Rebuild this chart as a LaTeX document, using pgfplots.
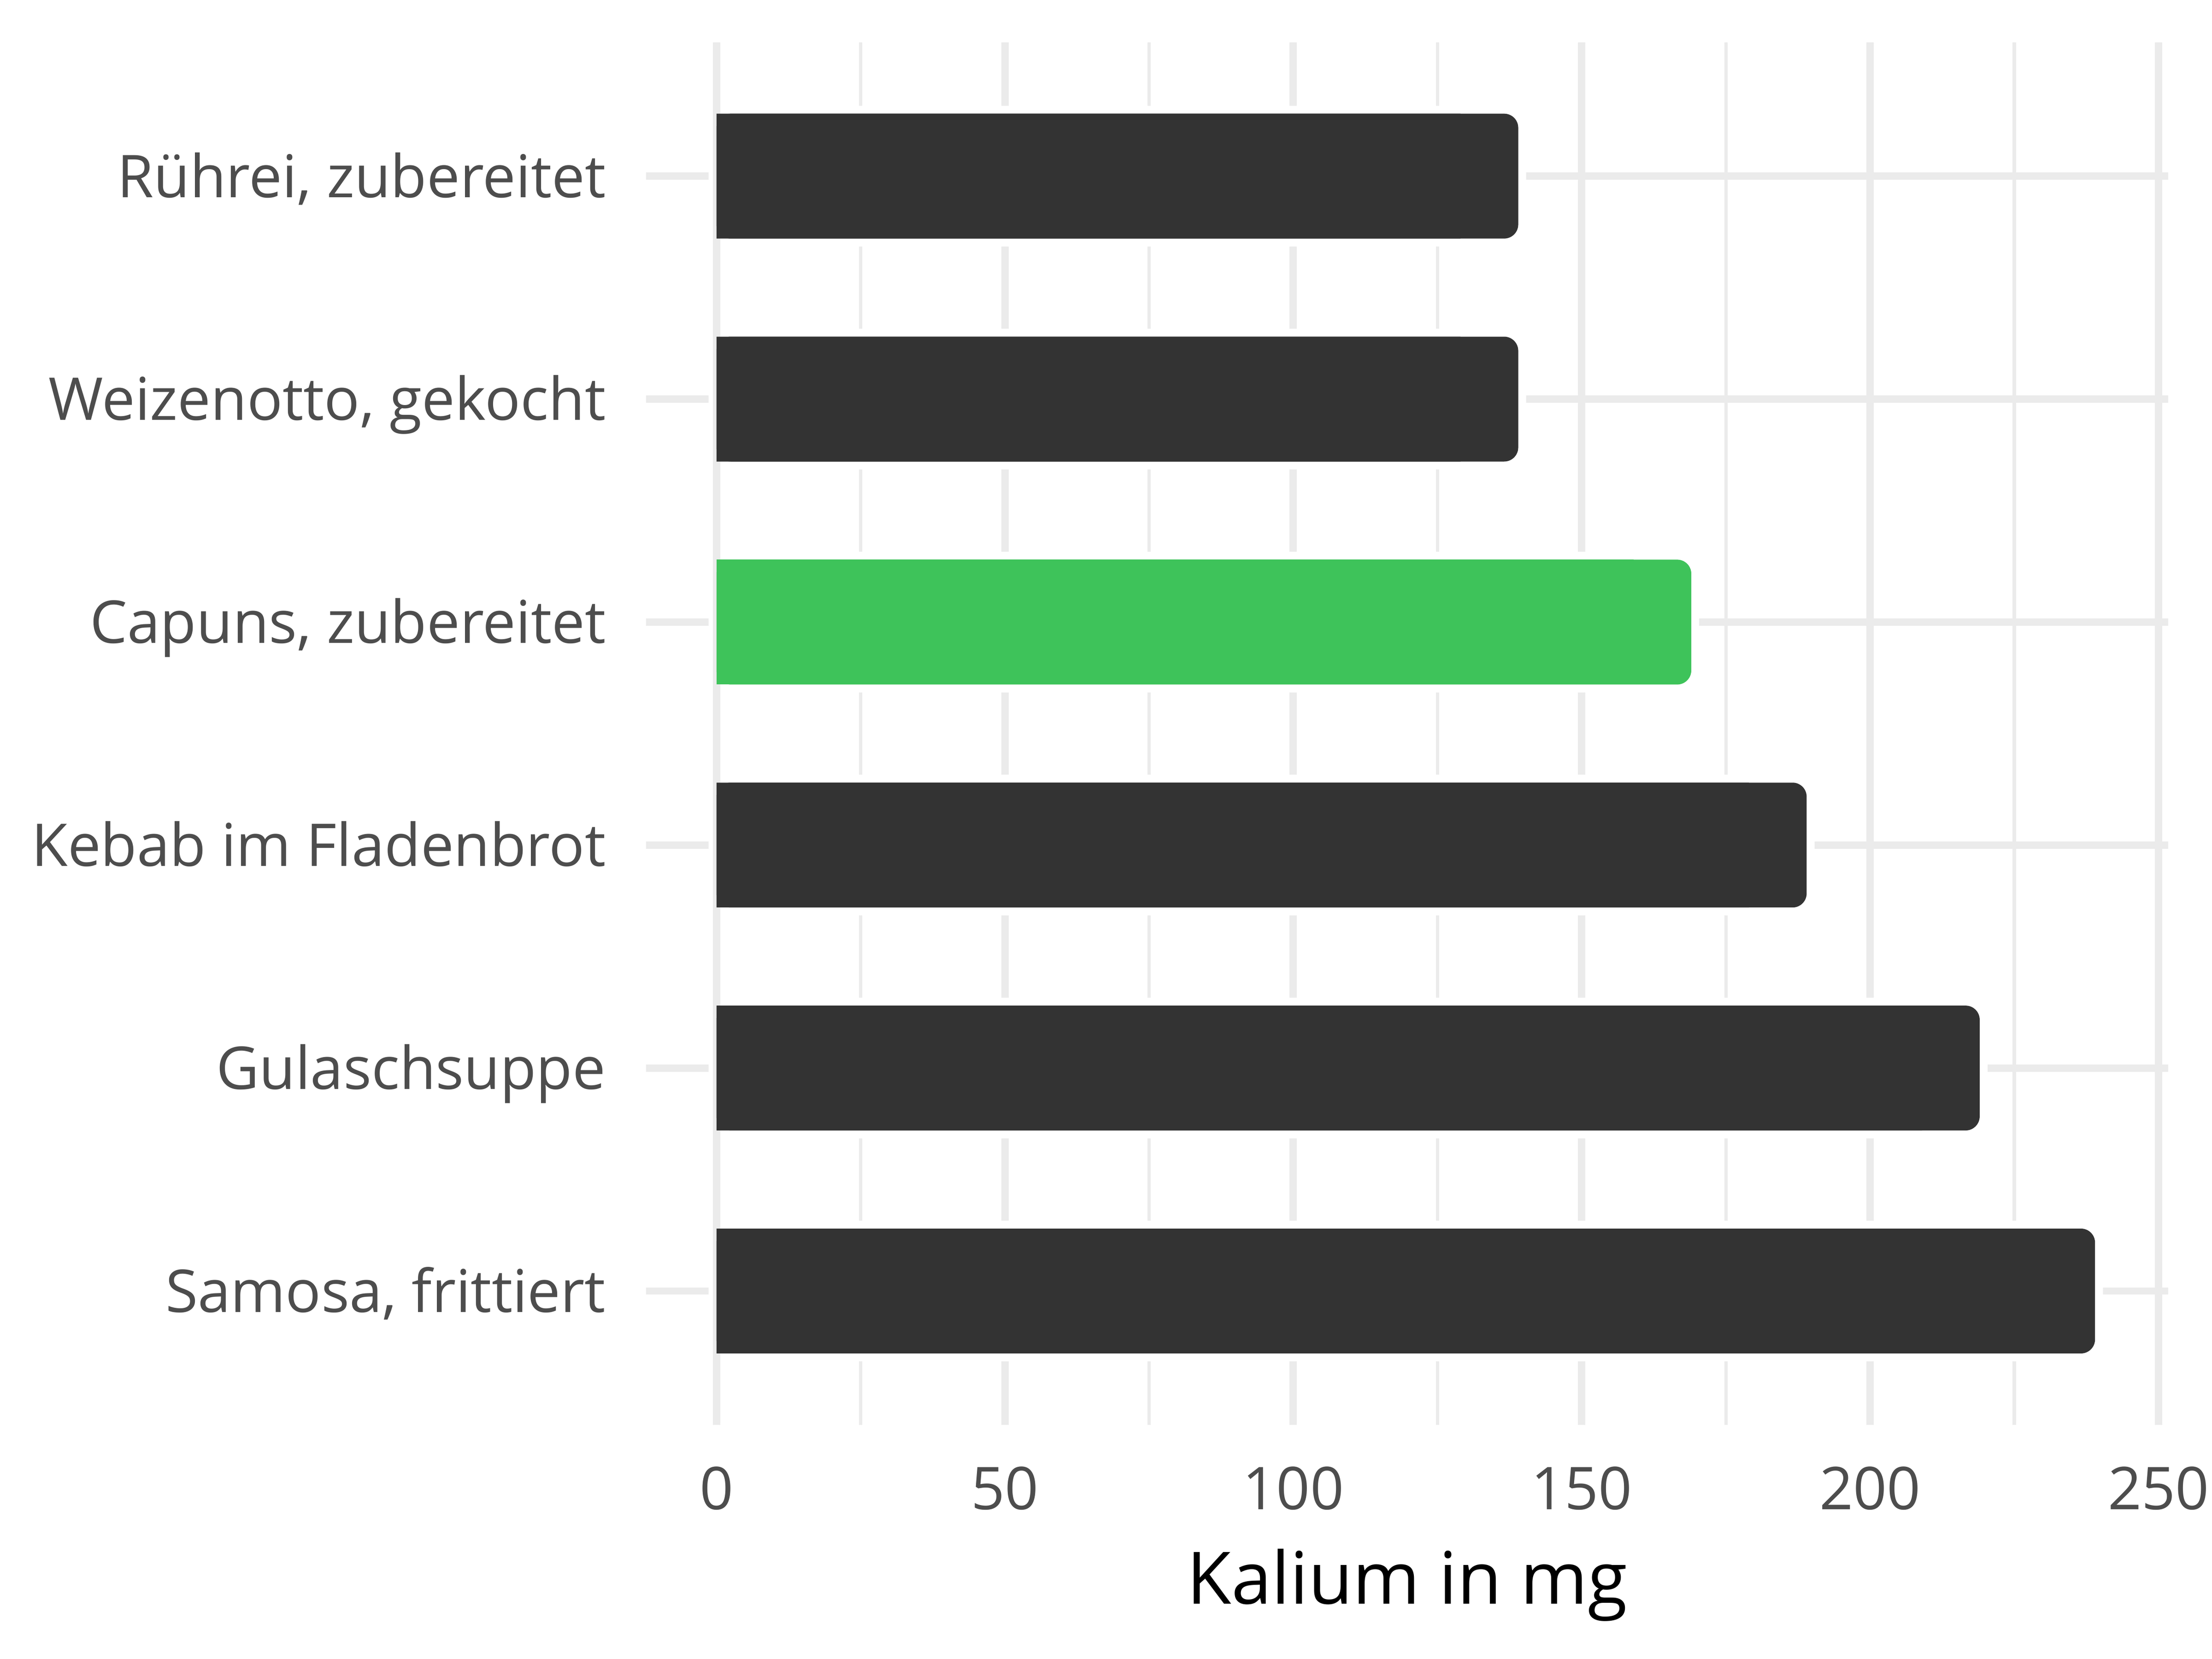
\documentclass[border=0pt]{standalone}
\usepackage{pgfplots}
\pgfplotsset{compat=1.18}
\usepackage{pgfplotstable}
\usepackage{fontspec}
\setmainfont{Open Sans}

\definecolor{bardark}{HTML}{333333}
\definecolor{bargreen}{HTML}{3EC35A}
\definecolor{gridgray}{HTML}{EBEBEB}
\definecolor{ticktext}{HTML}{4D4D4D}

% Kalium in mg, position 1 = unterste Zeile
\pgfplotstableread{
pos val
1 239
2 219
3 189
5 139
6 139
}\darkdata
\pgfplotstableread{
pos val
4 169
}\greendata
\pgfplotstableread{
pos val
1 239
2 219
3 189
4 169
5 139
6 139
}\alldata

\begin{document}
\begin{tikzpicture}
\useasboundingbox (0,0) rectangle (15.68cm,11.76cm);
\begin{axis}[
    at={(4.58cm,1.66cm)}, anchor=south west,
    width=10.79cm, height=9.8cm, scale only axis,
    xmin=-12.2, xmax=251.7, ymin=0.4, ymax=6.6,
    xtick={0,50,...,250}, minor xtick={25,75,...,225},
    ytick={1,...,6},
    yticklabels={{Samosa, frittiert},Gulaschsuppe,Kebab im Fladenbrot,{Capuns, zubereitet},{Weizenotto, gekocht},{Rührei, zubereitet}},
    xmajorgrids, xminorgrids, ymajorgrids,
    major grid style={draw=gridgray, line width=0.52mm},
    minor grid style={draw=gridgray, line width=0.23mm},
    axis line style={draw=none},
    major tick length=0pt, minor tick length=0pt,
    tick style={draw=none},
    /pgf/number format/assume math mode=true,
    xticklabel style={font=\fontsize{11.9}{14}\selectfont, text=ticktext, anchor=base, inner sep=0pt, yshift=-6mm},
    yticklabel style={font=\fontsize{11.9}{14}\selectfont, text=ticktext, anchor=base east, inner sep=0pt, xshift=-2.8mm, yshift=-1.5mm},
    xlabel={Kalium in mg},
    xlabel style={font=\fontsize{14.6}{17}\selectfont, text=black, at={(axis description cs:0.5,0)}, anchor=base, inner sep=0pt, yshift=-12.7mm},
  ]
  % weisser Rand um die Balken
  \addplot[xbar, bar shift=0pt, bar width=0.56, fill=white, draw=white, line width=1.12mm, rounded corners=1.4mm]
    table[x=val, y=pos] {\alldata};
  % Nulllinie wieder sichtbar
  \addplot[sharp plot, draw=gridgray, line width=0.52mm] coordinates {(0,0.4) (0,6.6)};
  % Balken
  \addplot[xbar, bar shift=0pt, bar width=0.56, fill=bardark, draw=none, rounded corners=1mm]
    table[x=val, y=pos] {\darkdata};
  \addplot[xbar, bar shift=0pt, bar width=0.56, fill=bardark, draw=none]
    table[x expr=\thisrow{val}-10, y=pos] {\darkdata};
  \addplot[xbar, bar shift=0pt, bar width=0.56, fill=bargreen, draw=none, rounded corners=1mm]
    table[x=val, y=pos] {\greendata};
  \addplot[xbar, bar shift=0pt, bar width=0.56, fill=bargreen, draw=none]
    table[x expr=\thisrow{val}-10, y=pos] {\greendata};
\end{axis}
\end{tikzpicture}
\end{document}
